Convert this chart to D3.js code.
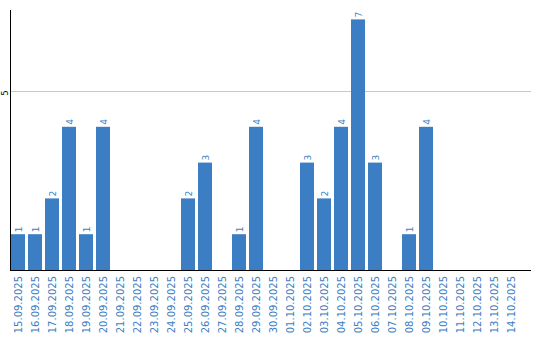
<!DOCTYPE html>
<html><head><meta charset="utf-8">
<script src="https://cdn.jsdelivr.net/npm/d3@7"></script>
<style>body{margin:0;background:#fff}svg{display:block}</style>
</head><body>
<script>
const dates = ["15.09.2025","16.09.2025","17.09.2025","18.09.2025","19.09.2025","20.09.2025","21.09.2025","22.09.2025","23.09.2025","24.09.2025","25.09.2025","26.09.2025","27.09.2025","28.09.2025","29.09.2025","30.09.2025","01.10.2025","02.10.2025","03.10.2025","04.10.2025","05.10.2025","06.10.2025","07.10.2025","08.10.2025","09.10.2025","10.10.2025","11.10.2025","12.10.2025","13.10.2025","14.10.2025"];
const counts = [1,1,2,4,1,4,0,0,0,0,2,3,0,1,4,0,0,3,2,4,7,3,0,1,4,0,0,0,0,0];
const yTicks = [5];

(function(){
const W = 540, H = 340;
const mL = 11, mR = 531, mT = 10, mB = 270;
const blue = "#3b7ec3";

const svg = d3.select("body").append("svg").attr("width", W).attr("height", H);

const x = d3.scaleBand().domain(dates).range([mL, mL + 30*17 - 3]).paddingInner(3/17).paddingOuter(0);
const y = d3.scaleLinear().domain([0, 5]).range([mB, 91]);

svg.selectAll(".grid").data(yTicks).enter().append("line")
  .attr("x1", mL).attr("x2", mR)
  .attr("y1", d => y(d)+0.5).attr("y2", d => y(d)+0.5)
  .attr("stroke", "#c8c8c8").attr("stroke-width", 1);

const rows = dates.map((d,i)=>({d, v: counts[i]})).filter(o=>o.v>0);

svg.selectAll(".bar").data(rows).enter().append("rect")
  .attr("x", o => x(o.d)).attr("width", x.bandwidth())
  .attr("y", o => y(o.v)).attr("height", o => mB - y(o.v))
  .attr("fill", blue);

svg.selectAll(".vl").data(rows).enter().append("text")
  .attr("transform", o => `translate(${x(o.d)+x.bandwidth()/2+3.5},${y(o.v)-2}) rotate(-90)`)
  .attr("font-family", "DejaVu Sans, sans-serif").attr("font-size", 9)
  .attr("fill", blue)
  .text(o => o.v);

svg.append("line").attr("x1", mL-0.5).attr("x2", mL-0.5).attr("y1", mT).attr("y2", mB+1)
  .attr("stroke", "#000").attr("stroke-width", 1);
svg.append("line").attr("x1", mL-1).attr("x2", mR).attr("y1", mB+0.5).attr("y2", mB+0.5)
  .attr("stroke", "#000").attr("stroke-width", 1);

svg.selectAll(".yt").data(yTicks).enter().append("text")
  .attr("transform", d => `translate(7.5,${y(d)+2}) rotate(-90)`)
  .attr("text-anchor", "middle")
  .attr("font-family", "DejaVu Sans, sans-serif").attr("font-size", 8)
  .attr("fill", "#000").text(d => d);

svg.selectAll(".xl").data(dates).enter().append("text")
  .attr("transform", d => `translate(${x(d)+x.bandwidth()/2+3.5},276) rotate(-90)`)
  .attr("text-anchor", "end")
  .attr("font-family", "DejaVu Sans, sans-serif").attr("font-size", 10)
  .attr("fill", blue).text(d => d);
})();
</script>
</body></html>
